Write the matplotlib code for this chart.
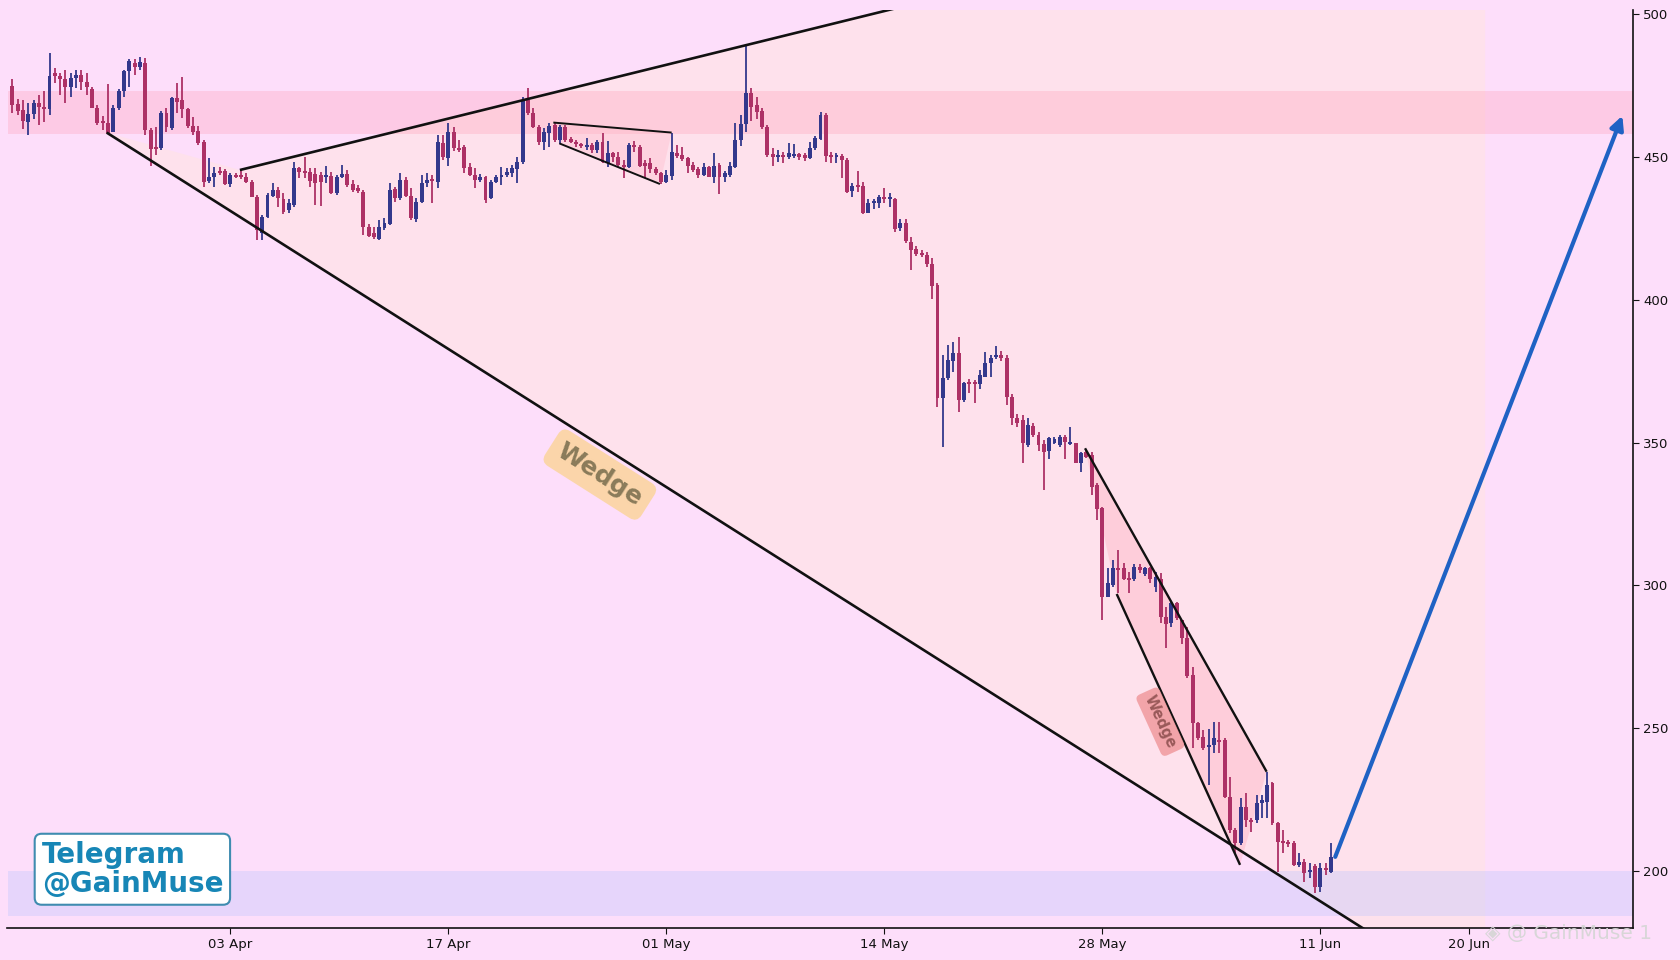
import matplotlib
matplotlib.use('Agg')
import matplotlib.pyplot as plt
import numpy as np

# candle data (8h bars)
opens = [474.8, 468.5, 466.4, 462.3, 465.0, 468.7, 467.6, 466.6, 479.2, 478.3,
         477.1, 474.3, 477.5, 478.6, 476.3, 473.6, 467.0, 462.2, 462.0, 458.8,
         467.0, 473.2, 480.2, 483.0, 481.3, 483.0, 459.4, 453.6, 453.0, 465.5,
         460.0, 470.5, 469.9, 466.6, 460.8, 459.2, 455.3, 441.7, 442.8, 445.2,
         445.2, 440.5, 443.6, 443.8, 443.1, 441.3, 436.1, 423.2, 429.1, 436.3,
         438.4, 435.1, 431.4, 433.2, 446.0, 445.2, 444.8, 444.0, 443.6, 442.8,
         443.3, 437.5, 442.8, 444.0, 440.5, 439.0, 437.8, 425.6, 423.2, 421.1,
         425.0, 426.5, 438.6, 435.5, 441.9, 436.3, 428.1, 434.3, 440.7, 441.9,
         441.3, 455.0, 449.5, 458.8, 453.0, 453.6, 446.3, 443.6, 441.9, 442.8,
         435.5, 441.3, 442.8, 443.6, 444.5, 445.6, 448.3, 469.9, 465.2, 460.6,
         455.3, 458.5, 461.2, 455.9, 460.6, 456.1, 455.3, 454.5, 453.6, 454.0,
         452.4, 455.3, 447.7, 451.5, 450.1, 447.1, 446.3, 453.8, 453.6, 447.7,
         447.7, 445.6, 444.2, 441.3, 443.3, 451.5, 450.6, 449.5, 447.2, 445.6,
         443.6, 446.3, 443.1, 447.2, 442.8, 443.6, 446.6, 455.9, 461.5, 472.5,
         468.1, 466.2, 460.3, 450.9, 450.1, 450.6, 450.1, 450.3, 451.0, 450.6,
         449.5, 453.0, 456.1, 464.6, 450.6, 450.1, 450.3, 448.9, 438.2, 440.2,
         439.8, 430.5, 434.0, 433.7, 435.5, 435.1, 435.1, 425.0, 427.0, 420.3,
         417.6, 416.5, 415.6, 412.5, 405.1, 365.5, 372.5, 378.7, 381.2, 364.9,
         371.0, 371.0, 370.5, 373.1, 377.7, 380.0, 380.6, 379.5, 366.0, 358.5,
         357.9, 349.1, 355.8, 352.6, 349.5, 347.2, 350.0, 349.1, 352.1, 349.5,
         349.7, 342.7, 346.8, 345.6, 335.1, 327.0, 296.1, 300.1, 306.0, 306.0,
         302.5, 302.1, 306.6, 304.0, 306.0, 299.6, 302.1, 289.1, 286.7, 293.7,
         287.9, 281.5, 268.6, 251.7, 247.1, 243.6, 244.1, 245.9, 245.9, 226.1,
         214.4, 210.0, 222.6, 217.9, 217.9, 223.9, 224.3, 230.7, 216.9, 210.3,
         209.9, 209.9, 202.1, 203.3, 199.6, 201.8, 194.6, 201.0, 199.8]
highs = [477.1, 470.1, 469.9, 468.7, 469.9, 471.6, 473.2, 486.5, 481.0, 479.2,
         480.4, 479.2, 480.4, 480.4, 479.5, 474.6, 468.2, 464.3, 475.4, 468.2,
         473.6, 480.4, 484.1, 484.1, 484.8, 484.5, 460.0, 460.3, 466.2, 467.0,
         470.8, 475.7, 478.1, 467.0, 464.1, 460.8, 455.9, 449.5, 446.6, 446.6,
         445.6, 444.2, 444.5, 445.6, 444.2, 441.9, 436.6, 429.6, 437.2, 440.7,
         439.6, 437.5, 435.1, 448.3, 446.6, 450.1, 446.0, 446.0, 444.8, 446.8,
         444.8, 443.6, 447.1, 445.4, 441.9, 440.2, 438.4, 426.5, 425.6, 427.9,
         428.5, 440.7, 439.6, 444.2, 442.8, 439.0, 435.5, 443.6, 444.2, 443.6,
         457.7, 457.7, 461.7, 460.6, 455.9, 454.2, 447.7, 446.0, 444.0, 443.3,
         441.9, 443.6, 446.3, 446.0, 447.1, 449.8, 471.1, 474.0, 467.0, 461.2,
         460.0, 461.7, 462.0, 461.2, 461.2, 456.8, 455.9, 455.0, 456.5, 454.7,
         455.9, 458.2, 455.7, 451.8, 451.8, 448.9, 454.7, 455.7, 454.2, 448.9,
         449.5, 446.6, 444.8, 445.4, 458.2, 454.2, 453.6, 450.1, 448.3, 446.6,
         447.7, 446.8, 451.2, 447.7, 445.2, 448.3, 461.7, 464.7, 489.1, 474.0,
         470.8, 467.0, 461.2, 453.0, 452.4, 451.8, 455.0, 454.5, 451.5, 451.5,
         455.3, 457.3, 465.8, 465.2, 451.8, 451.5, 451.0, 449.5, 441.0, 445.2,
         441.3, 435.1, 435.1, 436.6, 439.0, 437.5, 435.5, 428.1, 428.1, 422.1,
         418.8, 417.4, 416.8, 414.5, 405.7, 380.6, 384.2, 385.3, 387.1, 371.3,
         372.1, 371.9, 375.4, 381.8, 380.6, 383.8, 382.0, 380.5, 367.0, 360.0,
         359.5, 358.5, 356.7, 353.8, 350.9, 352.1, 352.1, 352.6, 352.6, 355.6,
         350.0, 346.8, 347.6, 346.8, 335.7, 327.6, 306.0, 308.9, 312.4, 307.7,
         304.8, 307.5, 307.5, 306.6, 306.6, 304.8, 304.2, 292.6, 294.3, 294.3,
         287.9, 285.6, 271.6, 252.3, 249.4, 249.6, 252.3, 252.3, 246.5, 233.1,
         215.0, 225.5, 227.2, 218.5, 226.6, 226.6, 234.8, 231.3, 217.3, 214.4,
         210.9, 210.6, 206.2, 204.1, 202.7, 202.5, 202.7, 202.7, 209.7]
lows = [465.2, 464.7, 459.6, 457.7, 463.1, 461.2, 462.3, 464.7, 475.7, 471.6,
        468.7, 471.1, 474.0, 473.4, 471.6, 467.0, 461.2, 459.4, 458.2, 458.8,
        466.4, 471.1, 474.6, 478.6, 480.4, 457.7, 446.8, 450.6, 452.4, 458.8,
        459.4, 465.2, 463.5, 460.0, 457.7, 454.2, 439.6, 440.7, 439.3, 443.6,
        440.2, 439.6, 442.5, 442.1, 441.0, 435.8, 420.9, 420.9, 428.5, 436.1,
        432.6, 430.0, 430.2, 432.6, 442.5, 442.5, 439.6, 433.2, 432.8, 440.7,
        437.0, 436.6, 442.5, 439.6, 437.8, 437.2, 422.7, 422.1, 421.1, 420.9,
        424.4, 426.2, 434.3, 434.9, 435.8, 427.9, 427.3, 433.7, 439.6, 434.0,
        439.0, 448.9, 446.8, 452.2, 451.8, 444.2, 443.3, 439.0, 441.3, 434.0,
        435.1, 440.7, 440.2, 442.8, 442.8, 440.7, 447.5, 464.6, 460.0, 454.2,
        452.4, 453.6, 455.3, 454.5, 455.3, 454.7, 453.6, 453.0, 452.4, 451.5,
        451.2, 447.7, 446.3, 448.3, 446.3, 442.5, 446.0, 451.8, 446.3, 442.5,
        444.5, 443.6, 440.5, 441.0, 441.9, 449.5, 448.7, 444.5, 444.8, 442.5,
        443.3, 442.8, 440.7, 437.0, 441.3, 443.1, 446.0, 453.8, 458.8, 462.7,
        463.1, 459.6, 450.1, 446.8, 448.3, 447.7, 449.1, 449.5, 448.9, 448.7,
        449.1, 452.4, 455.9, 448.3, 448.0, 448.0, 442.5, 437.2, 436.1, 437.8,
        430.0, 430.2, 431.6, 432.0, 433.7, 432.6, 423.8, 424.2, 420.0, 410.4,
        415.3, 415.1, 411.6, 400.1, 362.6, 348.6, 371.9, 374.8, 360.8, 364.3,
        367.2, 364.0, 368.6, 372.8, 373.1, 379.1, 378.5, 363.0, 356.0, 355.5,
        343.0, 348.6, 352.1, 347.2, 333.4, 344.1, 349.5, 348.6, 344.1, 349.1,
        342.7, 339.8, 344.5, 331.6, 322.9, 287.9, 295.8, 299.6, 297.2, 301.9,
        297.2, 301.7, 304.2, 303.3, 300.7, 297.8, 287.0, 278.0, 285.6, 287.9,
        279.5, 267.5, 243.0, 245.9, 242.4, 230.1, 241.2, 241.2, 225.5, 213.2,
        206.2, 209.1, 215.6, 213.8, 216.7, 218.5, 218.5, 216.1, 199.8, 206.2,
        208.6, 201.8, 201.6, 196.3, 197.5, 192.2, 192.8, 198.6, 199.2]
closes = [468.2, 466.2, 462.7, 465.0, 468.7, 467.3, 466.6, 478.3, 478.3, 477.1,
          474.3, 477.5, 478.6, 476.3, 474.3, 467.0, 461.7, 461.7, 458.5, 467.0,
          473.2, 480.2, 483.7, 481.3, 483.2, 459.4, 452.6, 452.6, 465.5, 460.3,
          470.5, 469.3, 466.6, 460.8, 458.8, 455.0, 441.3, 443.1, 444.5, 444.5,
          440.5, 443.6, 443.1, 443.1, 441.3, 436.1, 424.4, 429.1, 436.6, 438.4,
          435.5, 430.8, 433.7, 446.0, 444.8, 444.5, 441.7, 440.7, 441.3, 443.6,
          437.2, 443.1, 444.0, 440.2, 438.4, 438.2, 425.6, 422.3, 422.1, 425.6,
          427.0, 438.4, 435.5, 441.9, 436.3, 428.5, 434.3, 440.7, 441.9, 441.4,
          455.3, 449.8, 458.8, 453.0, 452.4, 446.0, 443.6, 441.9, 443.1, 434.9,
          441.3, 442.8, 443.6, 444.8, 446.0, 448.3, 469.9, 465.2, 460.6, 455.3,
          458.8, 460.8, 455.9, 460.6, 455.9, 455.3, 454.4, 453.8, 454.0, 452.4,
          455.3, 448.3, 451.2, 449.8, 447.1, 446.3, 454.2, 453.3, 446.8, 446.8,
          445.6, 444.2, 441.3, 443.6, 451.8, 450.3, 449.1, 446.8, 445.4, 443.6,
          446.6, 443.1, 446.8, 442.8, 444.2, 446.8, 455.9, 461.5, 472.5, 467.6,
          465.8, 460.3, 450.6, 450.1, 450.6, 450.1, 451.2, 451.0, 449.8, 449.5,
          453.0, 456.5, 464.6, 450.3, 450.1, 450.6, 448.9, 437.8, 439.8, 439.6,
          430.5, 434.0, 434.7, 435.8, 435.1, 435.5, 424.6, 426.7, 420.7, 417.4,
          416.0, 415.6, 412.5, 404.8, 365.5, 372.5, 378.9, 381.2, 364.9, 370.7,
          370.5, 370.5, 373.6, 378.0, 379.5, 380.6, 379.5, 366.0, 358.5, 356.8,
          349.7, 356.1, 352.6, 349.1, 346.8, 351.5, 351.1, 351.8, 350.3, 350.0,
          343.0, 346.2, 345.1, 334.6, 326.6, 296.1, 300.7, 306.0, 305.4, 302.1,
          301.9, 306.6, 305.4, 306.0, 302.1, 303.1, 289.1, 286.5, 293.7, 288.5,
          281.5, 268.3, 251.7, 246.5, 243.0, 244.1, 246.5, 245.3, 226.1, 214.4,
          209.7, 222.6, 217.9, 217.3, 223.7, 224.9, 230.1, 216.9, 210.3, 209.7,
          209.5, 202.1, 203.3, 199.2, 200.2, 194.6, 201.0, 200.4, 205.1]

tick_pos = [41, 82, 123, 164, 205, 246, 274]
tick_labels = ['03 Apr', '17 Apr', '01 May', '14 May', '28 May', '11 Jun', '20 Jun']

# zones
resist_zone = (458.0, 473.0)
support_zone = (184.3, 200.0)

# drawn trend lines (bar index, price)
big_lower = [(17.75, 458.5), (272.0, 158.8)]
big_upper = [(42.8, 445.4), (277.0, 552.9)]
flag_upper = [(101.75, 462.0), (124.0, 458.5)]
flag_lower = [(102.9, 454.7), (121.8, 440.5)]
fw_upper = [(201.75, 348.0), (235.9, 234.8)]
fw_lower = [(207.7, 297.0), (230.9, 202.2)]
arrow_from = (248.8, 205.0)
arrow_to = (302.8, 464.4)

bg = '#fddefa'
up_col = '#33388c'
dn_col = '#ad3166'

fig = plt.figure(figsize=(16.8, 9.6), dpi=100, facecolor=bg)
ax = fig.add_axes([7.5 / 1680, 1 - 928 / 960, 1625.5 / 1680, 918 / 960])
ax.set_facecolor(bg)

o = np.array(opens)
h = np.array(highs)
l = np.array(lows)
c = np.array(closes)
x = np.arange(len(o))

# big wedge area
lo_slope = (big_lower[1][1] - big_lower[0][1]) / (big_lower[1][0] - big_lower[0][0])
x_end = 277.0
lo_end = big_lower[0][1] + lo_slope * (x_end - big_lower[0][0])
poly = [big_lower[0], big_upper[0], big_upper[1], (x_end, lo_end)]
ax.fill([p[0] for p in poly], [p[1] for p in poly], color='#ffe4e1', alpha=0.55, lw=0, zorder=0.5)

ax.axhspan(*resist_zone, color='#ff9eb5', alpha=0.3, lw=0, zorder=0.6)
ax.axhspan(*support_zone, color='#b8c4ff', alpha=0.32, lw=0, zorder=0.6)

# small flag and falling wedge fills
fp = [flag_upper[0], flag_upper[1], flag_lower[1], flag_lower[0]]
ax.fill([p[0] for p in fp], [p[1] for p in fp], color='#ffb8c8', alpha=0.35, lw=0, zorder=0.7)
wp = [fw_upper[0], fw_upper[1], fw_lower[1], fw_lower[0]]
ax.fill([p[0] for p in wp], [p[1] for p in wp], color='#ffb0c0', alpha=0.4, lw=0, zorder=0.7)

# candles
cols = np.where(c >= o, up_col, dn_col)
ax.vlines(x, l, h, colors=cols, lw=1.3, zorder=3)
body = np.maximum(np.abs(c - o), 0.7)
ax.bar(x, body, bottom=np.minimum(o, c), width=0.74, color=cols, lw=0, zorder=3)

# trend lines
for ln, lw in [(big_lower, 1.9), (big_upper, 1.9), (flag_upper, 1.4), (flag_lower, 1.4),
               (fw_upper, 1.7), (fw_lower, 1.7)]:
    ax.plot([ln[0][0], ln[1][0]], [ln[0][1], ln[1][1]], color='#111111', lw=lw, zorder=4,
            solid_capstyle='butt')

ax.annotate('', xy=arrow_to, xytext=arrow_from,
            arrowprops=dict(arrowstyle='-|>', color='#1f62c4', lw=3.0, mutation_scale=20,
                            shrinkA=0, shrinkB=0), zorder=5)

ax.text(110.5, 338.8, 'Wedge', rotation=-32.4, ha='center', va='center', fontsize=18,
        fontweight='bold', color='#8a7b5a', zorder=6,
        bbox=dict(boxstyle='round,pad=0.35', fc='#fbd49c', ec='none', alpha=0.85))
ax.text(215.9, 252.3, 'Wedge', rotation=-65.5, ha='center', va='center', fontsize=10.5,
        fontweight='bold', color='#9a5a5a', zorder=6,
        bbox=dict(boxstyle='round,pad=0.35', fc='#f09a9e', ec='none', alpha=0.85))

ax.text(0.021, 0.064, 'Telegram\n@GainMuse', transform=ax.transAxes, ha='left', va='center',
        fontsize=20, fontweight='bold', color='#1786b6', linespacing=1.05, zorder=7,
        bbox=dict(boxstyle='round,pad=0.25', fc='white', ec='#3f8cb0', lw=1.5))

fig.text(0.884, 0.028, '\u25c8 @ GainMuse 1', fontsize=14.5, color='#d6d6d6', alpha=0.95,
         ha='left', va='center')

ax.set_xlim(-0.9, 304.8)
ax.set_ylim(180.1, 501.4)
ax.set_xticks(tick_pos)
ax.set_xticklabels(tick_labels)
ax.set_yticks(np.arange(200, 501, 50))
ax.yaxis.tick_right()
ax.tick_params(axis='both', labelsize=9.5, colors='#111111', length=4)
for s in ['left', 'top']:
    ax.spines[s].set_visible(False)
for s in ['right', 'bottom']:
    ax.spines[s].set_color('#111111')
    ax.spines[s].set_linewidth(1.2)

fig.savefig('out.png', dpi=100, facecolor=bg)
